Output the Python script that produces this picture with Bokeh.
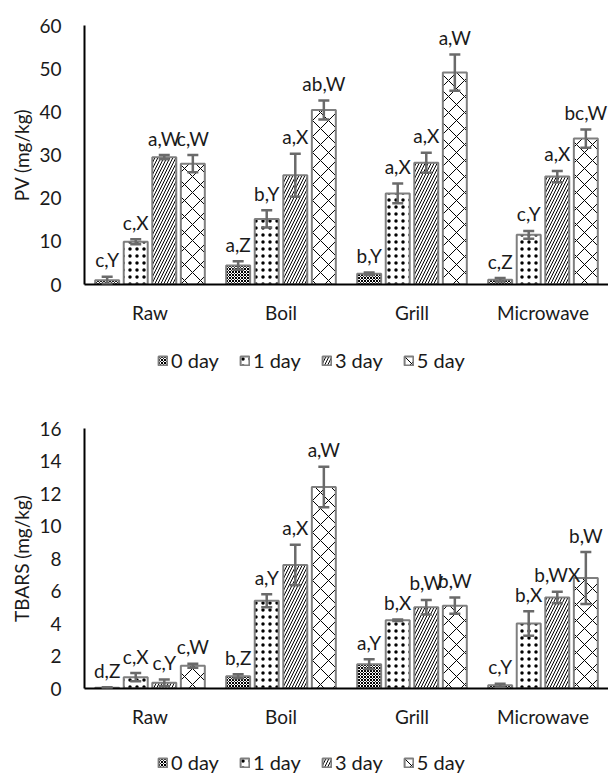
from bokeh.plotting import figure
from bokeh.models import (ColumnDataSource, Range1d, FixedTicker, SingleIntervalTicker,
                          Whisker, TeeHead, LabelSet, Legend, LegendItem)
from bokeh.layouts import column
from bokeh.core.properties import value
from bokeh.embed import file_html
from bokeh.resources import INLINE

# ---------------- data ----------------
categories = ["Raw", "Boil", "Grill", "Microwave"]
days = ["0 day", "1 day", "3 day", "5 day"]

# PV (mg/kg)
pv_0 = [1.0, 4.4, 2.5, 1.1]
pv_1 = [9.9, 15.2, 21.1, 11.5]
pv_3 = [29.5, 25.3, 28.2, 25.0]
pv_5 = [28.0, 40.4, 49.1, 33.8]
pv_0_err = [0.8, 1.0, 0.3, 0.4]
pv_1_err = [0.6, 2.0, 2.3, 0.9]
pv_3_err = [0.5, 5.0, 2.3, 1.3]
pv_5_err = [2.0, 2.2, 4.2, 2.1]
pv_lab_0 = ["c,Y", "a,Z", "b,Y", "c,Z"]
pv_lab_1 = ["c,X", "b,Y", "a,X", "c,Y"]
pv_lab_3 = ["a,W", "a,X", "a,X", "a,X"]
pv_lab_5 = ["c,W", "ab,W", "a,W", "bc,W"]

# TBARS (mg/kg)
tb_0 = [0.05, 0.75, 1.5, 0.2]
tb_1 = [0.7, 5.4, 4.2, 4.0]
tb_3 = [0.35, 7.6, 5.0, 5.6]
tb_5 = [1.4, 12.4, 5.1, 6.8]
tb_0_err = [0.03, 0.12, 0.3, 0.1]
tb_1_err = [0.25, 0.4, 0.05, 0.75]
tb_3_err = [0.2, 1.25, 0.45, 0.35]
tb_5_err = [0.12, 1.25, 0.5, 1.6]
tb_lab_0 = ["d,Z", "b,Z", "a,Y", "c,Y"]
tb_lab_1 = ["c,X", "a,Y", "b,X", "b,X"]
tb_lab_3 = ["c,Y", "a,X", "b,W", "b,WX"]
tb_lab_5 = ["c,W", "a,W", "b,W", "b,W"]

# ---------------- styles ----------------
FONT = "Lato"
TXT = "#1a1a1a"
HATCH = [("diagonal_cross", 3, 1.0), ("dot", 7, 1.0),
         ("right_diagonal_line", 6, 1.0), ("diagonal_cross", 16, 1.0)]
W = 608
BAR_STYLE = dict(fill_color="white", line_color="#7f7f7f", line_width=2,
                 hatch_color="black")


def make(ytitle, means, errs, labels, ymax, ystep, height, top, bottom):
    p = figure(width=W, height=height, output_backend="svg", toolbar_location=None,
               x_range=Range1d(0, len(categories)), y_range=Range1d(0, ymax),
               min_border_left=84, min_border_right=0, min_border_top=top,
               min_border_bottom=bottom, outline_line_color=None)
    p.grid.visible = False

    bar_w = 0.183
    pitch = 0.218
    for i, d in enumerate(days):
        off = (i - 1.5) * pitch
        xs = [k + 0.5 + off for k in range(len(categories))]
        src = ColumnDataSource(dict(
            x=xs, top=means[i],
            upper=[m + e for m, e in zip(means[i], errs[i])],
            lower=[max(m - e, 0) for m, e in zip(means[i], errs[i])],
            label=labels[i]))
        pat, sc, wt = HATCH[i]
        p.vbar(x="x", top="top", width=bar_w, source=src, hatch_pattern=pat,
               hatch_scale=sc, hatch_weight=wt, **BAR_STYLE)
        wh = Whisker(source=src, base="x", upper="upper", lower="lower",
                     line_color="#6a6a6a", line_width=2.5, level="annotation",
                     upper_head=TeeHead(size=11, line_color="#6a6a6a", line_width=2.5),
                     lower_head=TeeHead(size=11, line_color="#6a6a6a", line_width=2.5))
        p.add_layout(wh)
        ls = LabelSet(x="x", y="upper", text="label", source=src, y_offset=17,
                      text_align="center", text_baseline="middle",
                      text_font=value(FONT), text_font_size="19px", text_color=TXT)
        p.add_layout(ls)

    p.xaxis.ticker = FixedTicker(ticks=[k + 0.5 for k in range(len(categories))])
    p.xaxis.major_label_overrides = {k + 0.5: c for k, c in enumerate(categories)}
    p.yaxis.ticker = SingleIntervalTicker(interval=ystep)
    for ax in (p.xaxis[0], p.yaxis[0]):
        ax.major_tick_line_color = None
        ax.minor_tick_line_color = None
        ax.axis_line_color = "black"
        ax.axis_line_width = 2
        ax.major_label_text_font = FONT
        ax.major_label_text_font_size = "19px"
        ax.major_label_text_color = TXT
    p.xaxis.major_label_standoff = 10
    p.yaxis.major_label_standoff = 17
    p.yaxis.axis_label = ytitle
    p.yaxis.axis_label_standoff = 3
    p.yaxis.axis_label_text_font = FONT
    p.yaxis.axis_label_text_font_size = "19px"
    p.yaxis.axis_label_text_font_style = "normal"
    p.yaxis.axis_label_text_color = TXT
    return p


def make_legend(height, vx, vy):
    lf = figure(width=W, height=height, output_backend="svg", toolbar_location=None,
                x_range=Range1d(0, 1), y_range=Range1d(0, 1),
                x_axis_location=None, y_axis_location=None,
                min_border=0, outline_line_color=None)
    lf.grid.visible = False
    items = []
    for i, d in enumerate(days):
        pat, sc, wt = HATCH[i]
        # swatch-only renderer (hidden): the legend draws its key from it
        swatch = ColumnDataSource(dict(x=[-5], top=[1]))
        r = lf.vbar(x="x", top="top", width=0.1, source=swatch, hatch_pattern=pat,
                    hatch_scale=sc, hatch_weight=wt, visible=False, **BAR_STYLE)
        items.append(LegendItem(label=d, renderers=[r]))
    legend = Legend(items=items, orientation="horizontal", location=(vx, vy),
                    label_text_font=FONT, label_text_font_size="20px",
                    label_text_color=TXT, glyph_width=11, glyph_height=11,
                    label_standoff=3, spacing=20, padding=0, margin=0,
                    label_height=20, border_line_color=None, background_fill_alpha=0,
                    inactive_fill_alpha=0)
    lf.add_layout(legend)
    return lf


p1 = make("PV (mg/kg)", [pv_0, pv_1, pv_3, pv_5],
          [pv_0_err, pv_1_err, pv_3_err, pv_5_err],
          [pv_lab_0, pv_lab_1, pv_lab_3, pv_lab_5],
          60, 10, 334, 25, 50)
l1 = make_legend(62, 73, 24)
p2 = make("TBARS (mg/kg)", [tb_0, tb_1, tb_3, tb_5],
          [tb_0_err, tb_1_err, tb_3_err, tb_5_err],
          [tb_lab_0, tb_lab_1, tb_lab_3, tb_lab_5],
          16, 2, 338, 32, 46)
l2 = make_legend(40, 73, 0)

layout = column(p1, l1, p2, l2, spacing=0)
open("out.html", "w").write(file_html(layout, INLINE))
